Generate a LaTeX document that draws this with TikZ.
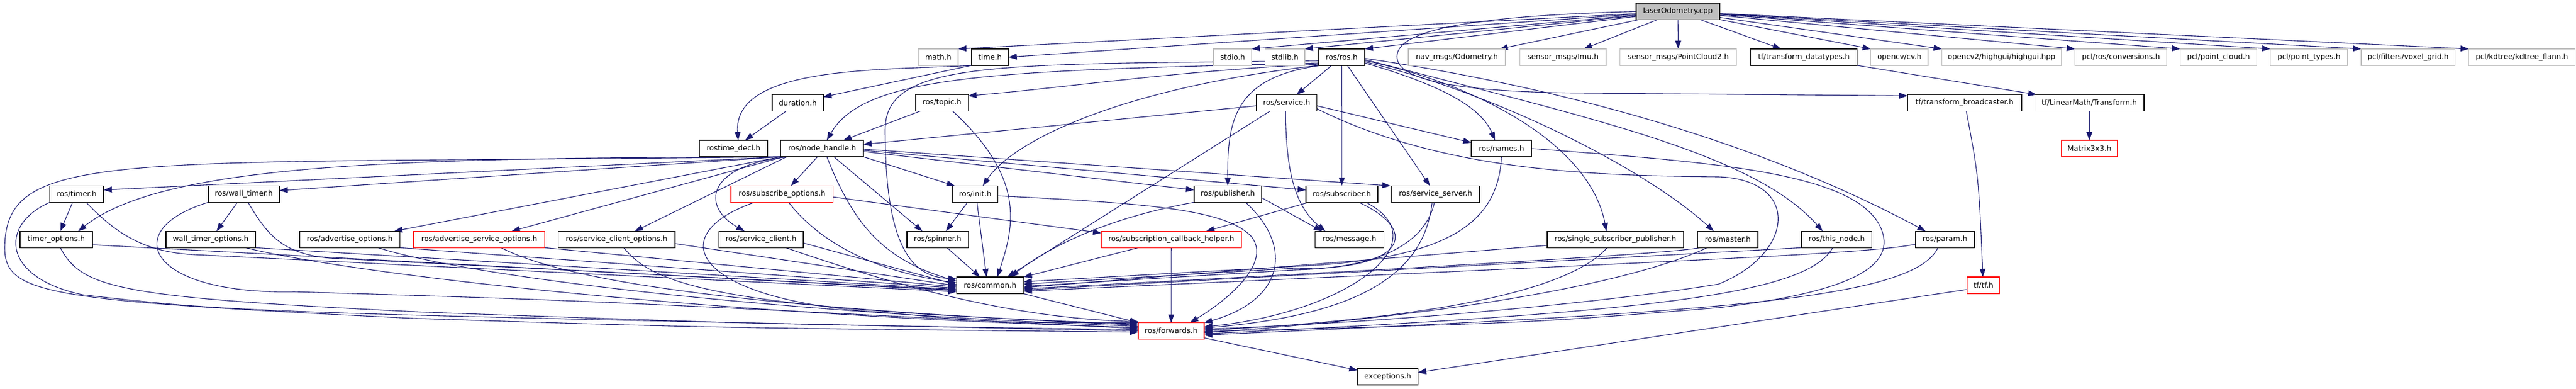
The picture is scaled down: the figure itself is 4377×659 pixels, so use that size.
\documentclass[tikz,border=0pt]{standalone}
\usepackage{fontspec}
\setmainfont{DejaVu Sans}
\usetikzlibrary{arrows.meta,calc}
\definecolor{edgec}{HTML}{191970}
\definecolor{greyb}{HTML}{BFBFBF}
\pgfdeclarelayer{edgelayer}
\pgfsetlayers{edgelayer,main}
\begin{document}
\begin{tikzpicture}[x=1pt,y=-1pt,
  nb/.style={draw=black,line width=1.3pt,rectangle,minimum height=28pt,inner sep=0pt,outer sep=0pt,font=\fontsize{12.5}{15}\selectfont,fill=white},
  ext/.style={nb,draw=greyb},
  trunc/.style={nb,draw=red},
  root/.style={nb,fill=greyb},
  e/.style={draw=edgec,line width=1.1pt,-{Triangle[length=14pt,width=10pt]}},
]
\useasboundingbox (0,0) rectangle (4377,659);
% ---------- row 0
\node[root,minimum width=142pt] (lo) at (2851,19.5) {laserOdometry.cpp};
% ---------- row 1
\node[ext,minimum width=67.4pt] (math) at (1594.3,97) {math.h};
\node[nb,minimum width=62.8pt] (time) at (1682.3,97) {time.h};
\node[ext,minimum width=64.7pt] (stdio) at (2094.4,97) {stdio.h};
\node[ext,minimum width=67.5pt] (stdlib) at (2183.3,97) {stdlib.h};
\node[nb,minimum width=78.7pt] (ros) at (2279.7,97) {ros/ros.h};
\node[ext,minimum width=165pt] (nav) at (2475.5,97) {nav\_msgs/Odometry.h};
\node[ext,minimum width=146.5pt] (imu) at (2655.8,97) {sensor\_msgs/Imu.h};
\node[ext,minimum width=198.3pt] (pc2) at (2851.6,97) {sensor\_msgs/PointCloud2.h};
\node[nb,minimum width=181pt] (tfdt) at (3065,97) {tf/transform\_datatypes.h};
\node[ext,minimum width=97.2pt] (cv) at (3227.4,97) {opencv/cv.h};
\node[ext,minimum width=203pt] (hg) at (3400.9,97) {opencv2/highgui/highgui.hpp};
\node[ext,minimum width=156pt] (conv) at (3603.7,97) {pcl/ros/conversions.h};
\node[ext,minimum width=130pt] (pcloud) at (3769.5,97) {pcl/point\_cloud.h};
\node[ext,minimum width=131.4pt] (ptypes) at (3923.3,97) {pcl/point\_types.h};
\node[ext,minimum width=159.4pt] (voxel) at (4091.7,97) {pcl/filters/voxel\_grid.h};
\node[ext,minimum width=180.6pt] (kdtree) at (4285,97) {pcl/kdtree/kdtree\_flann.h};
% ---------- row 2
\node[nb,minimum width=87pt] (dur) at (1355.5,174.5) {duration.h};
\node[nb,minimum width=89.4pt] (topic) at (1600.6,174.5) {ros/topic.h};
\node[nb,minimum width=102.5pt] (service) at (2186.3,174.5) {ros/service.h};
\node[nb,minimum width=193.7pt] (tfb) at (3338,174.5) {tf/transform\_broadcaster.h};
\node[nb,minimum width=185.8pt] (tflm) at (3550.1,174.5) {tf/LinearMath/Transform.h};
% ---------- row 3
\node[nb,minimum width=115.4pt] (rtd) at (1246.3,252) {rostime\_decl.h};
\node[nb,minimum width=140.2pt] (nh) at (1396.9,252) {ros/node\_handle.h};
\node[nb,minimum width=102.5pt] (names) at (2551.3,252) {ros/names.h};
\node[trunc,minimum width=95.4pt] (m3) at (3550.1,252) {Matrix3x3.h};
% ---------- row 4
\node[nb,minimum width=91.3pt] (timer) at (130.4,329.3) {ros/timer.h};
\node[nb,minimum width=121pt] (wtimer) at (414.4,329.3) {ros/wall\_timer.h};
\node[trunc,minimum width=173.8pt] (subopt) at (1328.9,329.3) {ros/subscribe\_options.h};
\node[nb,minimum width=77.3pt] (init) at (1657,329.3) {ros/init.h};
\node[nb,minimum width=114.4pt] (pub) at (2086.2,329.3) {ros/publisher.h};
\node[nb,minimum width=121.9pt] (sub) at (2279.9,329.3) {ros/subscriber.h};
\node[nb,minimum width=149.4pt] (srvs) at (2439.3,329.3) {ros/service\_server.h};
% ---------- row 5
\node[nb,minimum width=122.9pt] (topt) at (95.5,406.3) {timer\_options.h};
\node[nb,minimum width=151.9pt] (wtopt) at (358,406.3) {wall\_timer\_options.h};
\node[nb,minimum width=170.9pt] (advopt) at (594.3,406.3) {ros/advertise\_options.h};
\node[trunc,minimum width=222.5pt] (advsopt) at (814.3,406.3) {ros/advertise\_service\_options.h};
\node[nb,minimum width=198.8pt] (scopt) at (1047.7,406.3) {ros/service\_client\_options.h};
\node[nb,minimum width=143.8pt] (sclient) at (1293.1,406.3) {ros/service\_client.h};
\node[nb,minimum width=104.3pt] (spinner) at (1593.2,406.3) {ros/spinner.h};
\node[trunc,minimum width=238.4pt] (sch) at (1990.2,406.3) {ros/subscription\_callback\_helper.h};
\node[nb,minimum width=117.3pt] (msg) at (2292.9,406.3) {ros/message.h};
\node[nb,minimum width=231.4pt] (ssp) at (2744.7,406.3) {ros/single\_subscriber\_publisher.h};
\node[nb,minimum width=102.4pt] (master) at (2935.8,406.3) {ros/master.h};
\node[nb,minimum width=119.7pt] (thisnode) at (3120.9,406.3) {ros/this\_node.h};
\node[nb,minimum width=100.1pt] (param) at (3304.8,406.3) {ros/param.h};
% ---------- row 6..8
\node[nb,minimum width=114pt] (common) at (1682.3,484) {ros/common.h};
\node[trunc,minimum width=54.9pt] (tftf) at (3370.2,484) {tf/tf.h};
\node[trunc,minimum width=112pt] (fwd) at (1990,561.5) {ros/forwards.h};
\node[nb,minimum width=102.9pt] (exc) at (2357.9,639) {exceptions.h};

\begin{pgfonlayer}{edgelayer}
% laserOdometry.cpp
\draw[e] (lo) -- (math.north east);
\draw[e] (lo) -- (time.east);
\draw[e] (lo) -- (stdio.north east);
\draw[e] (lo) -- (stdlib.north east);
\draw[e] (lo) -- (ros.north east);
\draw[e] (lo) -- ($(nav.north east)+(-10,0)$);
\draw[e] (lo) -- (imu);
\draw[e] (lo) -- (pc2);
\draw[e] (lo) -- (tfdt);
\draw[e] (lo) -- (cv.north west);
\draw[e] (lo) -- (hg.north west);
\draw[e] (lo) -- (conv.north west);
\draw[e] (lo) -- (pcloud.north west);
\draw[e] (lo) -- (ptypes.north west);
\draw[e] (lo) -- (voxel.north west);
\draw[e] (lo) -- (kdtree.north west);
\draw[e] (lo.west) .. controls (2450,28) and (2368,60) .. (2374,100) .. controls (2380,140) and (2500,157) .. (2700,158) -- ($(tfb.west)+(0,-12)$);
% time.h, duration.h
\draw[e] (time.south west) .. controls (1500,120) and (1245,110) .. ($(rtd.north)+(8,0)$);
\draw[e] (time.south west) -- ($(dur.east)+(0,-10)$);
\draw[e] (dur) -- (rtd);
% ros/ros.h
\draw[e] ($(ros.west)+(0,6)$) .. controls (1700,110) and (1504,100) .. (1504,220) .. controls (1504,420) and (1550,470) .. ($(common.west)+(0,-11)$);
\draw[e] ($(ros.west)+(0,10)$) .. controls (1700,120) and (1470,125) .. ($(nh.north)+(8,0)$);
\draw[e] ($(ros.west)+(0,12)$) .. controls (2000,120) and (1800,150) .. ($(topic.east)+(0,-12)$);
\draw[e] (ros.south west) .. controls (1900,150) and (1720,240) .. ($(init.north)+(13,0)$);
\draw[e] ($(ros.south west)+(5,0)$) .. controls (2100,130) and (2085,200) .. (pub.north);
\draw[e] (ros) -- (service);
\draw[e] (ros) -- (sub);
\draw[e] (ros) -- (srvs);
\draw[e] ($(ros.east)+(0,10)$) .. controls (2470,150) and (2520,190) .. ($(names.north)+(-11,0)$);
\draw[e] ($(ros.east)+(0,6)$) .. controls (2500,140) and (2700,240) .. ($(ssp.north)+(-15,0)$);
\draw[e] ($(ros.east)+(0,8)$) .. controls (2550,160) and (2800,290) .. ($(master.north)+(-24,0)$);
\draw[e] ($(ros.east)+(0,4)$) .. controls (2700,200) and (2980,260) .. ($(thisnode.north)+(-24,0)$);
\draw[e] ($(ros.east)+(0,2)$) .. controls (2800,170) and (3100,300) .. ($(param.north)+(-33,0)$);
% ros/node_handle.h
\draw[e] (nh.south west) -- ($(timer.east)+(0,-7)$);
\draw[e] (nh.south west) -- ($(wtimer.east)+(0,-6)$);
\draw[e] (nh.south west) .. controls (700,268) and (280,275) .. ($(topt.north east)+(-24,0)$);
\draw[e] (nh.south west) .. controls (200,280) and (10,250) .. (8,420) .. controls (8,500) and (80,510) .. (700,540) .. controls (1200,556) .. ($(fwd.west)+(0,2)$);
\draw[e] (nh.south west) -- ($(advopt.north east)+(-10,0)$);
\draw[e] ($(nh.south west)+(5,0)$) -- ($(advsopt.north)+(55,0)$);
\draw[e] ($(nh.south west)+(10,0)$) -- ($(scopt.north)+(31,0)$);
\draw[e] ($(nh.south west)+(14,0)$) .. controls (1200,280) and (1190,350) .. ($(sclient.north)+(-28,0)$);
\draw[e] ($(nh.south)+(-8,0)$) -- ($(subopt.north)+(15,0)$);
\draw[e] ($(nh.south)+(8,0)$) .. controls (1450,380) and (1500,440) .. ($(common.west)+(0,-7)$);
\draw[e] ($(nh.south)+(20,0)$) -- ($(spinner.north)+(-26,0)$);
\draw[e] (nh.south east) -- ($(init.north west)+(4,0)$);
\draw[e] ($(nh.east)+(0,5)$) -- ($(pub.west)+(0,-7)$);
\draw[e] ($(nh.east)+(0,3)$) -- ($(sub.west)+(0,-7)$);
\draw[e] ($(nh.east)+(0,1)$) -- ($(srvs.north west)+(-2,0)$);
% ros/service.h
\draw[e] ($(service.west)+(0,5)$) -- ($(nh.east)+(0,-7)$);
\draw[e] ($(service.east)+(0,5)$) -- ($(names.west)+(0,-10)$);
\draw[e] ($(service.south west)+(23,0)$) -- ($(common.north east)+(-28,0)$);
\draw[e] ($(service.south)+(-2,0)$) .. controls (2185,290) and (2200,350) .. ($(msg.north)+(-41,0)$);
\draw[e] ($(service.east)+(0,10)$) .. controls (2450,290) and (2700,298) .. (2920,300) .. controls (3060,305) and (3050,430) .. (2920,482) .. controls (2750,510) and (2400,545) .. ($(fwd.east)+(0,-3)$);
% ros/topic.h
\draw[e] (topic) -- ($(nh.north east)+(-34,0)$);
\draw[e] ($(topic.south)+(18,0)$) .. controls (1740,300) and (1725,380) .. ($(common.north)+(12,0)$);
% ros/names.h
\draw[e] (names.south) .. controls (2545,380) and (2460,440) .. (2200,452) -- ($(common.east)+(0,-6)$);
\draw[e] (names.east) .. controls (2900,275) and (3150,290) .. (3195,385) .. controls (3225,450) and (3150,495) .. (2920,522) .. controls (2600,548) .. ($(fwd.east)+(0,1)$);
% ros/publisher.h
\draw[e] (pub.south west) .. controls (1880,370) and (1780,420) .. ($(common.north east)+(-22,0)$);
\draw[e] ($(pub.south east)+(-27,0)$) .. controls (2200,420) and (2180,510) .. (fwd.north east);
\draw[e] ($(pub.east)+(0,6)$) -- ($(msg.north west)+(12,0)$);
% ros/subscriber.h
\draw[e] ($(sub.south west)+(5,0)$) -- ($(sch.north east)+(-60,0)$);
\draw[e] ($(sub.south east)+(-32,0)$) .. controls (2420,395) and (2380,460) .. (2200,455) -- ($(common.east)+(0,-2)$);
\draw[e] ($(sub.south east)+(-20,0)$) .. controls (2450,410) and (2290,530) .. ($(fwd.east)+(0,-7)$);
% ros/service_server.h
\draw[e] ($(srvs.south)+(-2,0)$) .. controls (2420,420) and (2330,455) .. (2200,458) -- ($(common.east)+(0,2)$);
\draw[e] ($(srvs.south)+(-6,0)$) .. controls (2420,470) and (2300,535) .. ($(fwd.east)+(0,-5)$);
% ros/single_subscriber_publisher.h
\draw[e] ($(ssp.west)+(0,10)$) -- ($(common.east)+(0,4)$);
\draw[e] ($(ssp.south)+(-14,0)$) .. controls (2660,500) and (2400,542) .. ($(fwd.east)+(0,-1)$);
% ros/master.h
\draw[e] ($(master.south west)+(4,0)$) .. controls (2850,428) and (2600,445) .. ($(common.east)+(0,6)$);
\draw[e] ($(master.south west)+(16,0)$) .. controls (2750,490) and (2400,540) .. ($(fwd.east)+(0,3)$);
% ros/this_node.h
\draw[e] (thisnode.south west) -- ($(common.east)+(0,8)$);
\draw[e] ($(thisnode.south)+(-7,0)$) .. controls (3070,500) and (2800,530) .. ($(fwd.east)+(0,5)$);
% ros/param.h
\draw[e] ($(param.west)+(0,8)$) .. controls (3180,430) and (2920,440) .. ($(common.east)+(0,10)$);
\draw[e] ($(param.south)+(-12,0)$) .. controls (3250,510) and (2900,530) .. ($(fwd.east)+(0,7)$);
% tf
\draw[e] (tfdt.south east) -- ($(tflm.north west)+(3,0)$);
\draw[e] (tflm) -- (m3);
\draw[e] ($(tfb.south)+(3,0)$) .. controls (3362,300) .. ($(tftf.north)+(-1,0)$);
\draw[e] ($(tftf.west)+(0,7)$) -- ($(exc.east)+(0,-7)$);
% common, forwards
\draw[e] (common) -- (fwd);
\draw[e] (fwd) -- (exc);
% subscription_callback_helper
\draw[e] ($(sch.south)+(-56,0)$) -- (common.north east);
\draw[e] (sch) -- (fwd);
% spinner
\draw[e] ($(spinner.south)+(16,0)$) -- ($(common.north)+(-17,0)$);
% init
\draw[e] ($(init.south)+(-13,0)$) -- ($(spinner.north)+(14,0)$);
\draw[e] ($(init.south)+(3,0)$) -- ($(common.north)+(-6,0)$);
\draw[e] ($(init.east)+(0,3)$) .. controls (1950,345) and (2080,355) .. (2125,400) .. controls (2160,440) and (2100,500) .. ($(fwd.north)+(32,0)$);
% subscribe_options
\draw[e] ($(subopt.east)+(0,5)$) -- ($(sch.west)+(0,-11)$);
\draw[e] ($(subopt.south)+(11,0)$) .. controls (1400,420) and (1500,462) .. ($(common.west)+(0,-4)$);
\draw[e] ($(subopt.south)+(-47,0)$) .. controls (1120,400) and (1180,510) .. (1500,530) .. controls (1700,548) .. ($(fwd.west)+(0,-14)$);
% service_client
\draw[e] ($(sclient.east)+(0,6)$) -- ($(common.west)+(0,-1)$);
\draw[e] ($(sclient.south)+(42,0)$) .. controls (1480,470) and (1700,540) .. ($(fwd.west)+(0,-16)$);
% service_client_options
\draw[e] ($(scopt.east)+(0,7)$) -- ($(common.west)+(0,1)$);
\draw[e] ($(scopt.south)+(12,0)$) .. controls (1110,480) and (1200,525) .. ($(fwd.west)+(0,-12)$);
% advertise_service_options
\draw[e] (advsopt.south east) -- ($(common.west)+(0,3)$);
\draw[e] ($(advsopt.south)+(37,0)$) .. controls (950,470) and (1200,520) .. ($(fwd.west)+(0,-10)$);
% advertise_options
\draw[e] (advopt.south east) -- ($(common.west)+(0,5)$);
\draw[e] ($(advopt.south)+(48,0)$) .. controls (800,470) and (1300,530) .. ($(fwd.west)+(0,-8)$);
% wall_timer_options
\draw[e] (wtopt.south east) -- ($(common.west)+(0,7)$);
\draw[e] ($(wtopt.south)+(59,0)$) .. controls (600,465) and (1200,535) .. ($(fwd.west)+(0,-6)$);
% timer_options
\draw[e] ($(topt.east)+(0,9)$) -- ($(common.west)+(0,9)$);
\draw[e] ($(topt.south)+(7,0)$) .. controls (140,490) and (200,505) .. (730,530) .. controls (1300,550) .. ($(fwd.west)+(0,-2)$);
% ros/timer.h
\draw[e] ($(timer.south)+(-7,0)$) -- ($(topt.north)+(7,0)$);
\draw[e] ($(timer.south)+(16,0)$) .. controls (200,400) and (250,428) .. (330,432) .. controls (800,455) .. ($(common.west)+(0,11)$);
\draw[e] (timer.south west) .. controls (0,380) and (0,470) .. (140,500) .. controls (400,530) .. (fwd.west);
% ros/wall_timer.h
\draw[e] ($(wtimer.south)+(-11,0)$) -- ($(wtopt.north)+(10,0)$);
\draw[e] ($(wtimer.south)+(7,0)$) .. controls (455,400) and (480,430) .. (560,438) .. controls (900,455) .. ($(common.west)+(0,8)$);
\draw[e] (wtimer.south west) .. controls (200,390) and (250,500) .. (500,495) .. controls (1000,510) .. ($(fwd.west)+(0,-4)$);
\end{pgfonlayer}
\end{tikzpicture}
\end{document}
